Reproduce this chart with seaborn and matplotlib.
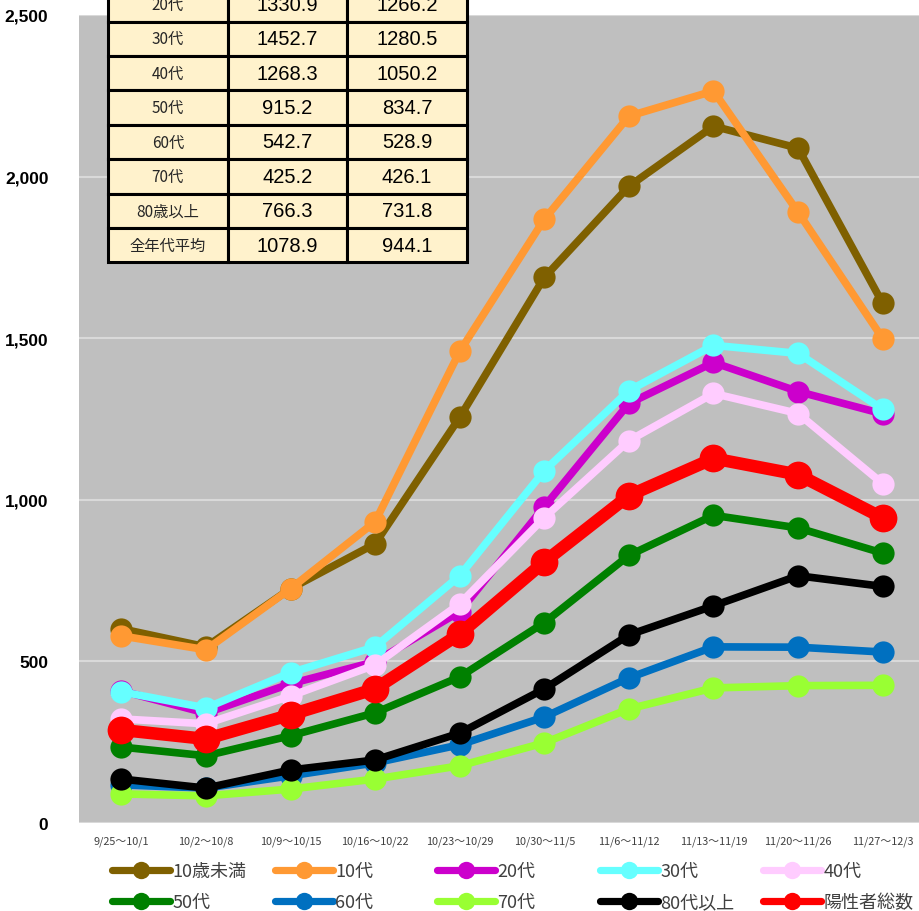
import pandas as pd
import matplotlib.pyplot as plt
import seaborn as sns
from matplotlib.lines import Line2D
from matplotlib.ticker import FuncFormatter

# weekly positives per 100k, by age group
weeks = ['9/25～10/1', '10/2～10/8', '10/9～10/15', '10/16～10/22', '10/23～10/29',
         '10/30～11/5', '11/6～11/12', '11/13～11/19', '11/20～11/26', '11/27～12/3']

under10 = [601, 545, 725, 864, 1255, 1688, 1970, 2156, 2088, 1608]
age10 = [579, 536, 725, 932, 1459, 1868, 2187, 2265, 1890, 1499]
age20 = [409, 340, 431, 499, 654, 979, 1298, 1425, 1335, 1266]
age30 = [406, 356, 465, 545, 765, 1090, 1338, 1478, 1453, 1280]
age40 = [322, 307, 393, 489, 678, 945, 1183, 1329, 1267, 1050]
age50 = [235, 208, 270, 341, 452, 620, 828, 952, 913, 835]
age60 = [118, 108, 146, 186, 242, 328, 449, 545, 544, 529]
age70 = [90, 84, 105, 136, 177, 248, 353, 418, 425, 426]
age80 = [136, 108, 164, 195, 278, 415, 582, 672, 765, 732]
total = [288, 260, 335, 415, 585, 808, 1013, 1128, 1078, 944]

series_names = ['10歳未満', '10代', '20代', '30代', '40代',
                '50代', '60代', '70代', '80代以上', '陽性者総数']
series_vals = [under10, age10, age20, age30, age40, age50, age60, age70, age80, total]
colors = ['#7F6000', '#FF9933', '#CC00CC', '#66FFFF', '#FFCCFF',
          '#008000', '#0070C0', '#99FF33', '#000000', '#FF0000']

# summary table (top rows are cut off in the original)
tbl_labels = ['20代', '30代', '40代', '50代', '60代', '70代', '80歳以上', '全年代平均']
tbl_col1 = ['1330.9', '1452.7', '1268.3', '915.2', '542.7', '425.2', '766.3', '1078.9']
tbl_col2 = ['1266.2', '1280.5', '1050.2', '834.7', '528.9', '426.1', '731.8', '944.1']

sns.set_style('white')
plt.rcParams['font.family'] = ['Noto Sans CJK JP', 'DejaVu Sans']

W, H = 919, 912
fig = plt.figure(figsize=(W / 100, H / 100), dpi=100)
ax = fig.add_axes([79 / W, (H - 824) / H, (925 - 79) / W, (824 - 16) / H])
ax.set_facecolor('#BFBFBF')

for name, vals, col in zip(series_names, series_vals, colors):
    big = name == '陽性者総数'
    d = pd.DataFrame({'week': weeks, 'value': vals})
    sns.lineplot(data=d, x='week', y='value', ax=ax, color=col, sort=False,
                 lw=9 if big else 5.5, marker='o', ms=20 if big else 16,
                 markeredgewidth=0)

ax.set_xlim(-0.5, 9.5)
ax.set_ylim(0, 2500)
ax.set_yticks(range(0, 2501, 500))
ax.yaxis.set_major_formatter(FuncFormatter(lambda v, p: f'{v:,.0f}'))
ax.set_xlabel('')
ax.set_ylabel('')
ax.grid(axis='y', color='#D9D9D9', lw=1.5)
ax.grid(axis='x', visible=False)
ax.set_axisbelow(True)
for s in ax.spines.values():
    s.set_visible(False)
ax.tick_params(axis='y', length=0, pad=22)
ax.tick_params(axis='x', length=0, pad=9)
for t in ax.get_yticklabels():
    t.set_fontfamily(['Liberation Sans', 'DejaVu Sans'])
    t.set_fontweight('bold')
    t.set_fontsize(12.5)
    t.set_color('black')
for t in ax.get_xticklabels():
    t.set_fontsize(7.8)
    t.set_color('#404040')

# table
tax = fig.add_axes([108 / W, (H - 263.3) / H, 359 / W, 275 / H])
tax.axis('off')
cells = [[a, b, c] for a, b, c in zip(tbl_labels, tbl_col1, tbl_col2)]
tb = tax.table(cellText=cells, bbox=[0, 0, 1, 1], cellLoc='center')
tb.auto_set_font_size(False)
for (r, c), cell in tb.get_celld().items():
    cell.set_facecolor('#FFF2CC')
    cell.set_edgecolor('black')
    cell.set_linewidth(2.2)
    txt = cell.get_text()
    if c == 0:
        txt.set_fontsize(11)
        txt.set_color('#262626')
    else:
        txt.set_fontsize(14.5)
        txt.set_fontfamily(['Liberation Sans', 'DejaVu Sans'])
        txt.set_color('black')

# legend: 5 columns, 2 rows
col_x = [112, 275, 437, 600, 763]
for i, x in enumerate(col_x):
    idx = [i, i + 5]
    hs = [Line2D([], [], color=colors[j], lw=5.2, marker='o', ms=12.5, markeredgewidth=0)
          for j in idx]
    fig.legend(hs, [series_names[j] for j in idx], loc='center left',
               bbox_to_anchor=(x / W, (H - 887.5) / H), frameon=False,
               fontsize=13, handlelength=3.2, handletextpad=0.15,
               labelspacing=0.72, borderpad=0, borderaxespad=0,
               labelcolor='#404040')

fig.savefig('out.png', dpi=100)
